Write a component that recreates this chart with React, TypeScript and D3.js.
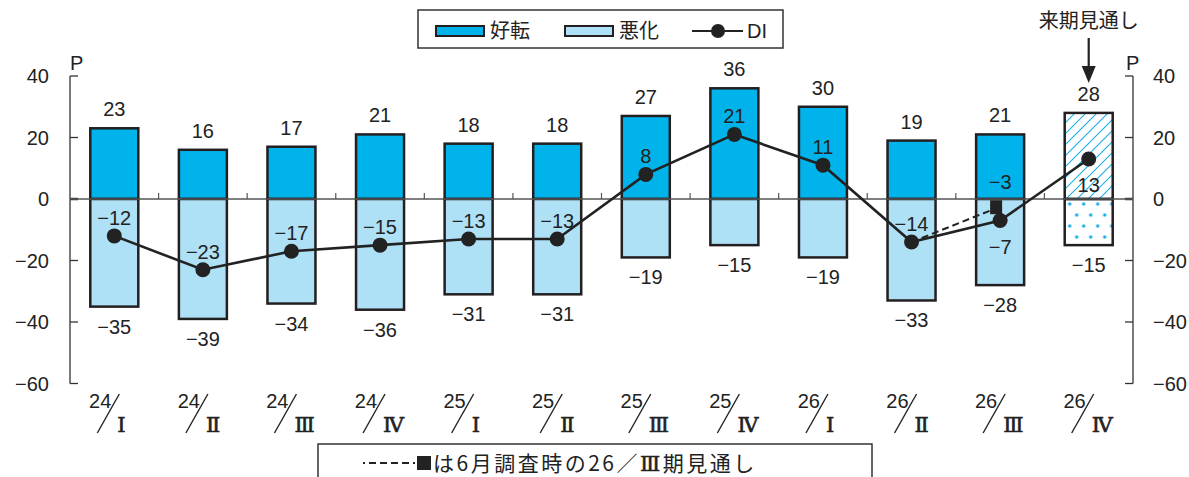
import React from "react";
import * as d3 from "d3";

const yearLabels = ["24", "24", "24", "24", "25", "25", "25", "25", "26", "26", "26", "26"];
const quarterLabels = ["Ⅰ", "Ⅱ", "Ⅲ", "Ⅳ", "Ⅰ", "Ⅱ", "Ⅲ", "Ⅳ", "Ⅰ", "Ⅱ", "Ⅲ", "Ⅳ"];
const improve = [23, 16, 17, 21, 18, 18, 27, 36, 30, 19, 21, 28];
const worsen = [-35, -39, -34, -36, -31, -31, -19, -15, -19, -33, -28, -15];
const di = [-12, -23, -17, -15, -13, -13, 8, 21, 11, -14, -7, 13];
const diLabelBelow = [false, false, false, false, false, false, false, false, false, false, true, true];
const prevForecast = -3; // 6月調査時の26/III期見通し
const yTicks = [40, 20, 0, -20, -40, -60];

const W = 1189;
const H = 477;
const FONT = "'Liberation Sans', 'Noto Sans CJK JP', sans-serif";
const JFONT = "'Noto Sans CJK JP', 'Liberation Sans', sans-serif";
const RFONT = "'DejaVu Serif', 'Liberation Serif', serif";
const C_IMP = "#00b4eb";
const C_WOR = "#aee0f6";
const C_EDGE = "#231f20";

export default function App() {
  const cats = yearLabels.map((y, i) => `${y}/${quarterLabels[i]}/${i}`);
  const x = d3.scaleBand<string>().domain(cats).range([70, 1133]).padding(0);
  const y = d3.scaleLinear().domain([-60, 40]).range([383.5, 76]);
  const bw = 48;
  const cx = (i: number) => (x(cats[i]) as number) + x.bandwidth() / 2;
  const y0 = y(0);
  const n = cats.length;
  const last = n - 1;

  const line = d3
    .line<number>()
    .x((_, i) => cx(i))
    .y((d) => y(d));

  const fsx = cx(10) - 4;

  return (
    <svg width={W} height={H} style={{ position: "absolute", left: 0, top: 0 }} fontFamily={FONT}>
      <defs>
        <pattern id="hatch" patternUnits="userSpaceOnUse" width="11" height="11">
          <path d="M0,11 L11,0 M-3,3 L3,-3 M8,14 L14,8" stroke="#1aaee6" strokeWidth="1.1" />
        </pattern>
        <pattern id="dots" patternUnits="userSpaceOnUse" width="14" height="22" x={cx(last) - 24} y={y0}>
          <circle cx="5" cy="5" r="1.7" fill="#1aaee6" />
          <circle cx="12" cy="16" r="1.7" fill="#1aaee6" />
        </pattern>
      </defs>
      <rect x={0} y={0} width={W} height={H} fill="#fff" />

      {/* axes */}
      <line x1={70} x2={70} y1={y(40)} y2={y(-60)} stroke="#333" strokeWidth={1.3} />
      <line x1={1133} x2={1133} y1={y(40)} y2={y(-60)} stroke="#333" strokeWidth={1.3} />
      {yTicks.map((t) => (
        <g key={t}>
          <line x1={70} x2={78} y1={y(t)} y2={y(t)} stroke="#333" strokeWidth={t === 0 ? 2.5 : 1.3} />
          <line x1={1125} x2={1133} y1={y(t)} y2={y(t)} stroke="#333" strokeWidth={t === 0 ? 2.5 : 1.3} />
          <text x={49} y={y(t) + 7} textAnchor="end" fontSize={20} fill="#222">
            {t < 0 ? `−${-t}` : t}
          </text>
          <text x={1153} y={y(t) + 7} textAnchor="start" fontSize={20} fill="#222">
            {t < 0 ? `−${-t}` : t}
          </text>
        </g>
      ))}
      <text x={70} y={70} fontSize={20} fill="#222">P</text>
      <text x={1126} y={70} fontSize={20} fill="#222">P</text>

      {/* bars */}
      {cats.map((c, i) => {
        const isLast = i === last;
        return (
          <g key={c}>
            <rect
              x={cx(i) - bw / 2}
              y={y(improve[i])}
              width={bw}
              height={y0 - y(improve[i])}
              fill={isLast ? "url(#hatch)" : C_IMP}
              stroke={C_EDGE}
              strokeWidth={2.5}
            />
            <rect
              x={cx(i) - bw / 2}
              y={y0}
              width={bw}
              height={y(worsen[i]) - y0}
              fill={isLast ? "url(#dots)" : C_WOR}
              stroke={C_EDGE}
              strokeWidth={2.5}
            />
            <text x={cx(i)} y={y(improve[i]) - 12} textAnchor="middle" fontSize={20} fill="#222">
              {improve[i]}
            </text>
            <text x={cx(i)} y={y(worsen[i]) + 27} textAnchor="middle" fontSize={20} fill="#222">
              {`−${-worsen[i]}`}
            </text>
          </g>
        );
      })}

      {/* zero line and minor ticks */}
      <line x1={70} x2={1133} y1={y0} y2={y0} stroke="#555" strokeWidth={1.5} />
      {cats.slice(1).map((c) => (
        <line key={c} x1={x(c) as number} x2={x(c) as number} y1={y0} y2={y0 - 6} stroke="#555" strokeWidth={1.2} />
      ))}

      {/* previous forecast */}
      <line
        x1={cx(9)}
        y1={y(di[9])}
        x2={fsx}
        y2={y(prevForecast)}
        stroke="#222"
        strokeWidth={2}
        strokeDasharray="7,4"
      />
      <rect x={fsx - 6} y={y(prevForecast) - 8} width={12} height={14} fill="#222" />
      <text x={cx(10)} y={y(prevForecast) - 19} textAnchor="middle" fontSize={20} fill="#222">
        −3
      </text>

      {/* DI line */}
      <path d={line(di) || ""} fill="none" stroke="#222" strokeWidth={2.6} />
      {di.map((v, i) => (
        <g key={i}>
          <circle cx={cx(i)} cy={y(v)} r={7.5} fill="#222" />
          <text
            x={cx(i)}
            y={diLabelBelow[i] ? y(v) + 33 : y(v) - 11}
            textAnchor="middle"
            fontSize={20}
            fill="#222"
          >
            {v < 0 ? `−${-v}` : v}
          </text>
        </g>
      ))}

      {/* x labels */}
      {cats.map((c, i) => (
        <g key={c}>
          <text x={cx(i) - 3} y={408} textAnchor="end" fontSize={20} fill="#222">
            {yearLabels[i]}
          </text>
          <line x1={cx(i) - 17} y1={433} x2={cx(i) + 5} y2={394} stroke="#222" strokeWidth={1.4} />
          <text
            x={cx(i) + 3}
            y={432}
            textAnchor="start"
            fontSize={21}
            fontFamily={RFONT}
            fill="#222"
            stroke="#222"
            strokeWidth={0.6}
          >
            {quarterLabels[i]}
          </text>
        </g>
      ))}

      {/* 来期見通し annotation */}
      <text x={cx(last)} y={28} textAnchor="middle" fontSize={20} fontFamily={JFONT} fill="#222">
        来期見通し
      </text>
      <line x1={cx(last)} x2={cx(last)} y1={38} y2={70} stroke="#222" strokeWidth={2.2} />
      <path
        d={`M${cx(last) - 7},66 L${cx(last) + 7},66 L${cx(last)},83 Z`}
        fill="#222"
      />

      {/* legend */}
      <rect x={418} y={10} width={365} height={38} fill="#fff" stroke="#333" strokeWidth={1.5} />
      <rect x={436} y={26} width={48} height={10} fill={C_IMP} stroke={C_EDGE} strokeWidth={2} />
      <text x={490} y={38} fontSize={20} fontFamily={JFONT} fill="#222">好転</text>
      <rect x={565} y={26} width={48} height={10} fill={C_WOR} stroke={C_EDGE} strokeWidth={2} />
      <text x={619} y={38} fontSize={20} fontFamily={JFONT} fill="#222">悪化</text>
      <line x1={692} x2={743} y1={31} y2={31} stroke="#222" strokeWidth={2.2} />
      <circle cx={718} cy={31} r={7} fill="#222" />
      <text x={747} y={38} fontSize={20} fill="#222">DI</text>

      {/* note box */}
      <rect x={318} y={444} width={554} height={60} fill="#fff" stroke="#333" strokeWidth={1.5} />
      <line x1={363} x2={416} y1={463} y2={463} stroke="#222" strokeWidth={2} strokeDasharray="2,4,7,4,7,4,7,4,7,4" />
      <rect x={417} y={456} width={14} height={14} fill="#222" />
      <text x={433} y={471} fontSize={21} fontFamily={JFONT} fill="#222" letterSpacing={2.5}>
        は6月調査時の26／
        <tspan fontFamily={RFONT} stroke="#222" strokeWidth={0.5}>Ⅲ</tspan>
        期見通し
      </text>
    </svg>
  );
}
